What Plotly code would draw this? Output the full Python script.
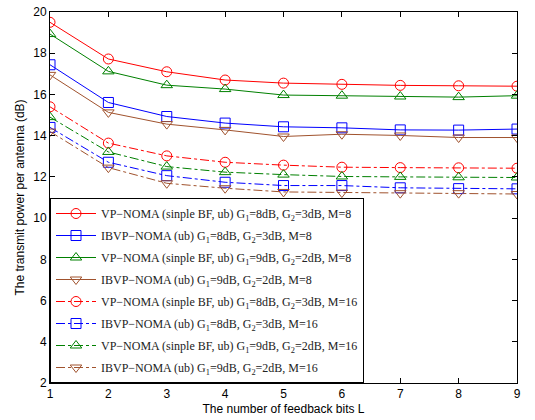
import plotly.graph_objects as go

L = [1, 2, 3, 4, 5, 6, 7, 8, 9]

names = [
    "VP\u2212NOMA (sinple BF, ub) G<sub>1</sub>=8dB, G<sub>2</sub>=3dB, M=8",
    "IBVP\u2212NOMA (ub) G<sub>1</sub>=8dB, G<sub>2</sub>=3dB, M=8",
    "VP\u2212NOMA (sinple BF, ub) G<sub>1</sub>=9dB, G<sub>2</sub>=2dB, M=8",
    "IBVP\u2212NOMA (ub) G<sub>1</sub>=9dB, G<sub>2</sub>=2dB, M=8",
    "VP\u2212NOMA (sinple BF, ub) G<sub>1</sub>=8dB, G<sub>2</sub>=3dB, M=16",
    "IBVP\u2212NOMA (ub) G<sub>1</sub>=8dB, G<sub>2</sub>=3dB, M=16",
    "VP\u2212NOMA (sinple BF, ub) G<sub>1</sub>=9dB, G<sub>2</sub>=2dB, M=16",
    "IBVP\u2212NOMA (ub) G<sub>1</sub>=9dB, G<sub>2</sub>=2dB, M=16",
]

vp_83_m8 = [19.50, 17.72, 17.10, 16.70, 16.55, 16.49, 16.44, 16.42, 16.40]
ib_83_m8 = [17.44, 15.61, 14.93, 14.61, 14.43, 14.38, 14.28, 14.27, 14.32]
vp_92_m8 = [18.93, 17.12, 16.45, 16.26, 15.97, 15.94, 15.90, 15.87, 15.94]
ib_92_m8 = [16.95, 15.13, 14.56, 14.28, 13.96, 14.07, 14.01, 13.91, 13.91]
vp_83_m16 = [15.40, 13.64, 13.02, 12.71, 12.57, 12.47, 12.45, 12.44, 12.42]
ib_83_m16 = [14.40, 12.71, 12.06, 11.74, 11.58, 11.58, 11.47, 11.43, 11.42]
vp_92_m16 = [14.90, 13.21, 12.50, 12.23, 12.11, 12.02, 12.00, 11.98, 11.97]
ib_92_m16 = [14.20, 12.45, 11.69, 11.45, 11.27, 11.24, 11.21, 11.21, 11.17]

series = [vp_83_m8, ib_83_m8, vp_92_m8, ib_92_m8, vp_83_m16, ib_83_m16, vp_92_m16, ib_92_m16]
colors = ["#ff0000", "#0000ff", "#008000", "#a0522d"] * 2
symbols = ["circle-open", "square-open", "triangle-up-open", "triangle-down-open"] * 2
dashes = ["solid"] * 4 + ["dashdot"] * 4

fig = go.Figure()
for i, (nm, ys) in enumerate(zip(names, series)):
    fig.add_trace(go.Scatter(
        x=L, y=ys, name=nm, mode="lines+markers",
        line=dict(color=colors[i], width=1, dash=dashes[i]),
        marker=dict(symbol=symbols[i], size=10, color=colors[i], line=dict(width=1, color=colors[i])),
        legendgroup="g%d" % i,
    ))

axis_common = dict(
    showline=True, linecolor="black", linewidth=1, mirror="ticks",
    ticks="inside", ticklen=5, tickcolor="black", showgrid=False, zeroline=False,
    automargin=False, ticklabeloverflow="allow",
    tickfont=dict(family="Liberation Sans, Arial", size=12, color="black"),
)

fig.update_layout(
    width=535, height=420,
    margin=dict(l=50, r=18, t=12, b=37),
    paper_bgcolor="white", plot_bgcolor="white",
    xaxis=dict(range=[1, 9], dtick=1, **axis_common,
               title=dict(text="The number of feedback bits L", standoff=4,
                          font=dict(family="Liberation Sans, Arial", size=12, color="black"))),
    yaxis=dict(range=[2, 20], dtick=2, **axis_common,
               title=dict(text="The transmit power per antenna (dB)", standoff=6,
                          font=dict(family="Liberation Sans, Arial", size=12, color="black"))),
    legend=dict(x=0, y=0, xanchor="left", yanchor="bottom",
                bgcolor="white", bordercolor="black", borderwidth=1,
                font=dict(family="Liberation Serif, Times New Roman", size=12, color="#222"),
                tracegroupgap=3, itemwidth=40),
    showlegend=True,
)

fig.write_html("out.html", config={"displayModeBar": False},
               post_script="document.body.style.margin='0';")
